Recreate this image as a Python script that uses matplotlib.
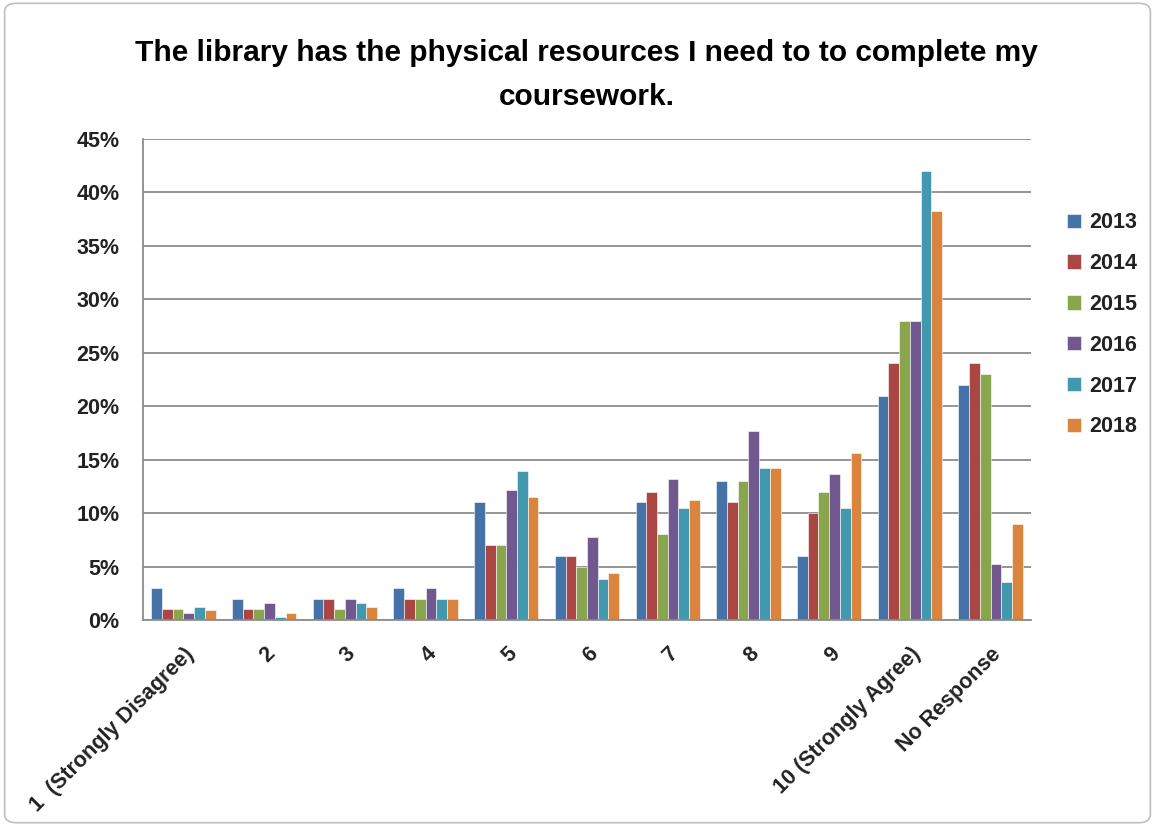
import matplotlib
matplotlib.use("Agg")
import matplotlib.pyplot as plt
import numpy as np
from matplotlib.patches import FancyBboxPatch
from matplotlib.ticker import PercentFormatter

categories = ["1  (Strongly Disagree)", "2", "3", "4", "5", "6", "7", "8", "9",
              "10 (Strongly Agree)", "No Response"]
years = ["2013", "2014", "2015", "2016", "2017", "2018"]
v2013 = [3, 2, 2, 3, 11, 6, 11, 13, 6, 21, 22]
v2014 = [1, 1, 2, 2, 7, 6, 12, 11, 10, 24, 24]
v2015 = [1, 1, 1, 2, 7, 5, 8, 13, 12, 28, 23]
v2016 = [0.7, 1.6, 2, 3, 12.2, 7.8, 13.2, 17.7, 13.7, 28, 5.2]
v2017 = [1.2, 0.3, 1.6, 2, 13.9, 3.8, 10.5, 14.2, 10.5, 42, 3.6]
v2018 = [0.9, 0.7, 1.2, 2, 11.5, 4.4, 11.2, 14.2, 15.6, 38.3, 9]
series = [v2013, v2014, v2015, v2016, v2017, v2018]
colors = ["#4572A7", "#AA4643", "#89A54E", "#71588F", "#4198AF", "#DB843D"]

plt.rcParams['font.family'] = ['Liberation Sans', 'DejaVu Sans']
fig = plt.figure(figsize=(11.55, 8.26), dpi=100)
ax = fig.add_axes([143/1155, 1-620/826, (1031-143)/1155, (620-139)/826])

x = np.arange(len(categories))
bw = 0.133
for i, (vals, c, y) in enumerate(zip(series, colors, years)):
    ax.bar(x + (i - 2.5) * bw, vals, width=bw, color=c, label=y,
           edgecolor="white", linewidth=0.4)

ax.set_xlim(-0.5, len(categories) - 0.5)
ax.set_ylim(0, 45)
ax.set_yticks(np.arange(0, 46, 5))
ax.yaxis.set_major_formatter(PercentFormatter(decimals=0))
ax.yaxis.grid(True, color="#8c8c8c", linewidth=1.3)
ax.set_axisbelow(True)
for s in ["top", "right"]:
    ax.spines[s].set_visible(False)
ax.spines["left"].set_color("#8c8c8c")
ax.spines["bottom"].set_color("#8c8c8c")
ax.spines["left"].set_linewidth(1.3)
ax.spines["bottom"].set_linewidth(1.3)
ax.tick_params(axis="y", length=0, pad=17, labelsize=15.5, labelcolor="#222222")
ax.tick_params(axis="x", length=0, pad=17, labelsize=15.5, labelcolor="#222222")
ax.set_xticks(x)
ax.set_xticklabels(categories, rotation=45, ha="right", rotation_mode="anchor")
for lab in ax.get_xticklabels() + ax.get_yticklabels():
    lab.set_fontweight("bold")

fig.text(0.508, 1 - 75/826,
         "The library has the physical resources I need to to complete my\ncoursework.",
         ha="center", va="center", fontsize=21.5, fontweight="bold", linespacing=1.72)

leg = fig.legend(loc="upper left", bbox_to_anchor=(1048/1155, 1-193/826),
                 frameon=False, prop={"weight": "bold", "size": 15.5},
                 handlelength=0.65, handleheight=0.65, labelspacing=0.92,
                 handletextpad=0.35)
for t in leg.get_texts():
    t.set_color("#222222")

border = FancyBboxPatch((0.004, 0.004), 0.992, 0.992, boxstyle="round,pad=0,rounding_size=0.01",
                        transform=fig.transFigure, fill=False, edgecolor="#bfbfbf",
                        linewidth=1.2)
fig.patches.append(border)

fig.savefig("out.png", dpi=100)
